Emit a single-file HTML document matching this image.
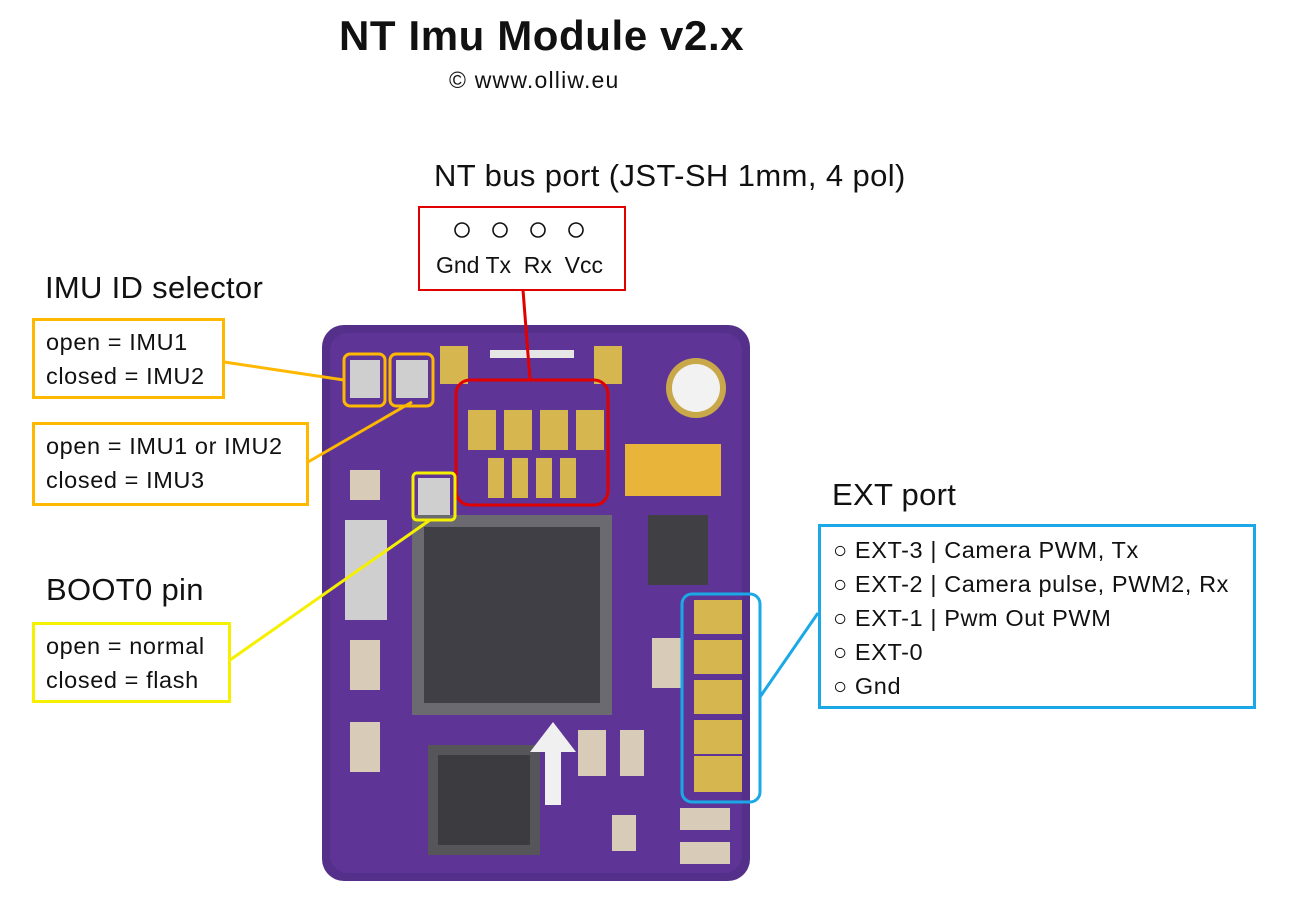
<!DOCTYPE html>
<html><head><meta charset="utf-8"><style>
body{margin:0;width:1292px;height:906px;background:#fff;position:relative;overflow:hidden;font-family:"Liberation Sans","DejaVu Sans",sans-serif;color:#111}
.t{position:absolute;white-space:nowrap}
.h{font-size:31px;letter-spacing:0.3px}
.box{position:absolute;background:#fff;box-sizing:border-box;font-size:23.5px;letter-spacing:0.6px;line-height:34px;padding:4px 11px;white-space:nowrap}
</style></head><body>
<svg width="1292" height="906" style="position:absolute;left:0;top:0">
 <rect x="322" y="325" width="428" height="556" rx="22" fill="#55308a"/>
 <rect x="330" y="333" width="412" height="540" rx="18" fill="#5e3596"/>
 <circle cx="696" cy="388" r="30" fill="#c9a84a"/><circle cx="696" cy="388" r="24" fill="#f2f2f2"/>
 <rect x="440" y="346" width="28" height="38" fill="#d6b64f"/>
 <rect x="594" y="346" width="28" height="38" fill="#d6b64f"/>
 <rect x="490" y="350" width="84" height="8" fill="#e6e6e6"/>
 <g fill="#d6b64f">
  <rect x="468" y="410" width="28" height="40"/><rect x="504" y="410" width="28" height="40"/>
  <rect x="540" y="410" width="28" height="40"/><rect x="576" y="410" width="28" height="40"/>
  <rect x="488" y="458" width="16" height="40"/><rect x="512" y="458" width="16" height="40"/>
  <rect x="536" y="458" width="16" height="40"/><rect x="560" y="458" width="16" height="40"/>
 </g>
 <rect x="350" y="360" width="30" height="38" fill="#cfcfcf"/><rect x="396" y="360" width="32" height="38" fill="#cfcfcf"/>
 <rect x="418" y="478" width="32" height="38" fill="#cfcfcf"/>
 <rect x="412" y="515" width="200" height="200" fill="#6a6a70"/>
 <rect x="424" y="527" width="176" height="176" fill="#3f3f45"/>
 <rect x="428" y="745" width="112" height="110" fill="#55555a"/>
 <rect x="438" y="755" width="92" height="90" fill="#3c3c40"/>
 <rect x="625" y="444" width="96" height="52" fill="#e8b43a"/>
 <rect x="648" y="515" width="60" height="70" fill="#3f3f44"/>
 <rect x="345" y="520" width="42" height="100" fill="#cfcfcf"/>
 <g fill="#d8cbb8">
  <rect x="350" y="470" width="30" height="30"/><rect x="350" y="640" width="30" height="50"/>
  <rect x="350" y="722" width="30" height="50"/><rect x="652" y="638" width="30" height="50"/>
  <rect x="578" y="730" width="28" height="46"/><rect x="620" y="730" width="24" height="46"/>
  <rect x="612" y="815" width="24" height="36"/><rect x="680" y="808" width="50" height="22"/>
  <rect x="680" y="842" width="50" height="22"/>
 </g>
 <polygon points="553,722 530,752 545,752 545,805 561,805 561,752 576,752" fill="#f0f0f0"/>
 <g fill="#d6b64f">
  <rect x="694" y="600" width="48" height="34"/><rect x="694" y="640" width="48" height="34"/>
  <rect x="694" y="680" width="48" height="34"/><rect x="694" y="720" width="48" height="34"/>
  <rect x="694" y="756" width="48" height="36"/>
 </g>
 <rect x="456" y="380" width="152" height="125" rx="14" fill="none" stroke="#e00000" stroke-width="3"/>
 <line x1="523" y1="290" x2="530" y2="380" stroke="#e00000" stroke-width="3"/>
 <rect x="344" y="354" width="41" height="52" rx="6" fill="none" stroke="#ffb800" stroke-width="3"/>
 <rect x="390" y="354" width="43" height="52" rx="6" fill="none" stroke="#ffb800" stroke-width="3"/>
 <line x1="224" y1="362" x2="344" y2="380" stroke="#ffb800" stroke-width="3"/>
 <line x1="308" y1="462" x2="412" y2="402" stroke="#ffb800" stroke-width="3"/>
 <rect x="413" y="473" width="42" height="47" rx="4" fill="none" stroke="#f5f000" stroke-width="3"/>
 <line x1="230" y1="660" x2="430" y2="520" stroke="#f5f000" stroke-width="3"/>
 <rect x="682" y="594" width="78" height="208" rx="10" fill="none" stroke="#1aa9e6" stroke-width="3"/>
 <line x1="760" y1="697" x2="818" y2="613" stroke="#1aa9e6" stroke-width="3"/>
</svg>
<div class="t" style="left:339px;top:12px;font-size:42px;font-weight:bold;letter-spacing:0.6px">NT Imu Module v2.x</div>
<div class="t" style="left:449px;top:67px;font-size:23px;letter-spacing:1.2px">© www.olliw.eu</div>
<div class="t h" style="left:434px;top:158px;letter-spacing:0.4px">NT bus port (JST-SH 1mm, 4 pol)</div>
<div class="box" style="left:418px;top:206px;width:208px;height:85px;border:2px solid #e00000"></div>
<svg width="1292" height="906" style="position:absolute;left:0;top:0">
 <g fill="none" stroke="#111" stroke-width="1.6">
  <circle cx="462" cy="230" r="7"/><circle cx="500" cy="230" r="7"/><circle cx="538" cy="230" r="7"/><circle cx="576" cy="230" r="7"/>
 </g>
</svg>
<div class="t" style="left:436px;top:252px;font-size:23px">Gnd Tx&nbsp; Rx&nbsp; Vcc</div>
<div class="t h" style="left:45px;top:270px">IMU ID selector</div>
<div class="box" style="left:32px;top:318px;width:193px;height:81px;border:3px solid #ffb800">open = IMU1<br>closed = IMU2</div>
<div class="box" style="left:32px;top:422px;width:277px;height:84px;border:3px solid #ffb800">open = IMU1 or IMU2<br>closed = IMU3</div>
<div class="t h" style="left:46px;top:572px">BOOT0 pin</div>
<div class="box" style="left:32px;top:622px;width:199px;height:81px;border:3px solid #f5f000">open = normal<br>closed = flash</div>
<div class="t h" style="left:832px;top:477px">EXT port</div>
<div class="box" style="left:818px;top:524px;width:438px;height:185px;border:3px solid #1aa9e6;padding:6px 12px">○ EXT-3 | Camera PWM, Tx<br>○ EXT-2 | Camera pulse, PWM2, Rx<br>○ EXT-1 | Pwm Out PWM<br>○ EXT-0<br>○ Gnd</div>
</body></html>
